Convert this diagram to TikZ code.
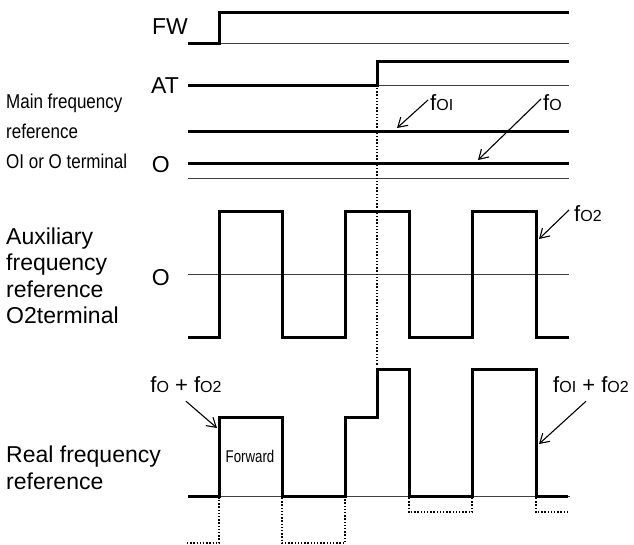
\documentclass[tikz,border=0pt]{standalone}
\usepackage{fontspec}
\setmainfont{Liberation Sans}
\newfontfamily\narrowfont[FakeStretch=0.85]{Liberation Sans}
\newfontfamily\slimfont[FakeStretch=0.78]{Liberation Sans}
\usetikzlibrary{arrows.meta,positioning}
\newcommand{\fq}[1]{f{\fontsize{16}{16}\selectfont #1}}

\begin{document}
\begin{tikzpicture}[
        x=1pt, y=-1pt,
        sig/.style={line width=3pt},
        zero/.style={line width=0.8pt, black!75},
        guide/.style={line width=1.5pt, dash pattern=on 1.4pt off 1.8pt},
        ptr/.style={line width=1.1pt, -{Straight Barb[length=9pt,width=11pt]}},
        lbl/.style={inner sep=0pt, font=\fontsize{23}{27}\selectfont},
        flbl/.style={inner sep=0pt, font=\fontsize{22}{26}\selectfont},
        side/.style={inner sep=0pt, align=left, anchor=west, font=\fontsize{23}{26.5}\selectfont},
        narrow/.style={inner sep=0pt, align=left, anchor=west, font=\narrowfont\fontsize{20}{30}\selectfont}
    ]
        \useasboundingbox (0,0) rectangle (634,544);

        % signal names
        \node[lbl, anchor=east] (fw) at (188,27) {FW};
        \node[lbl, anchor=east] (at) at (179,86) {AT};
        \node[lbl, anchor=east] (omain) at (170,165) {O};
        \node[lbl, anchor=east] (oaux) at (170,278) {O};

        \node[narrow] (main) at (6,131) {Main frequency\\reference\\OI or O terminal};
        \node[side] (aux) at (6,276) {Auxiliary\\frequency\\reference\\O2terminal};
        \node[side] (real) at (6,468) {Real frequency\\reference};

        % FW and AT
        \draw[zero] (219,43) -- (569,43);
        \draw[sig] (188,43) -- (219,43) -- (219,12) -- (569,12);
        \draw[zero] (377,85) -- (569,85);
        \draw[sig] (188,85) -- (377,85) -- (377,61) -- (569,61);

        % main frequency reference
        \draw[sig] (188,131) -- (569,131);
        \draw[sig] (188,163) -- (569,163);
        \draw[zero] (188,178) -- (569,178);

        % auxiliary frequency reference
        \draw[zero] (188,274) -- (569,274);
        \draw[sig] (188,337) -- (219,337) -- (219,211) -- (282,211) -- (282,337)
            -- (345,337) -- (345,211) -- (409,211) -- (409,337) -- (472,337)
            -- (472,211) -- (536,211) -- (536,337) -- (569,337);

        % real frequency reference
        \draw[zero] (188,496) -- (570,496);
        \draw[sig] (188,496) -- (219,496) -- (219,417) -- (282,417) -- (282,496)
            -- (345,496) -- (345,417) -- (377,417) -- (377,369) -- (409,369)
            -- (409,496) -- (472,496) -- (472,369) -- (536,369) -- (536,496) -- (568,496);
        \draw[guide] (187,543) -- (219,543) -- (219,498);
        \draw[guide] (282,498) -- (282,543) -- (345,543) -- (345,498);
        \draw[guide] (409,498) -- (409,512) -- (472,512) -- (472,498);
        \draw[guide] (536,498) -- (536,512) -- (569,512);
        \draw[guide] (377,88) -- (377,366);

        \node[inner sep=0pt, font=\slimfont\fontsize{17}{17}\selectfont] (fwd) at (250,456) {Forward};

        % pointers
        \coordinate (fOItip) at (397,128);
        \coordinate (fOtip) at (478,160);
        \coordinate (fOtwotip) at (539,239);
        \coordinate (sumAtip) at (217,428);
        \coordinate (sumBtip) at (539,444);

        \node[flbl, anchor=west] (fOI) at (430,103) {\fq{OI}};
        \node[flbl, anchor=west] (fO) at (543,103) {\fq{O}};
        \node[flbl, anchor=west] (fOtwo) at (574,214) {\fq{O2}};
        \node[flbl] (sumA) at (186,385) {\fq{O} + \fq{O2}};
        \node[flbl] (sumB) at (591,385) {\fq{OI} + \fq{O2}};

        \draw[ptr] ([shift={(-2,-3)}]fOI.west) -- (fOItip);
        \draw[ptr] ([shift={(-2,-4)}]fO.west) -- (fOtip);
        \draw[ptr] ([shift={(-5,-4)}]fOtwo.west) -- (fOtwotip);
        \draw[ptr] ([shift={(0,8)}]sumA.south) -- (sumAtip);
        \draw[ptr] ([shift={(-5,8)}]sumB.south) -- (sumBtip);
    \end{tikzpicture}
\end{document}
